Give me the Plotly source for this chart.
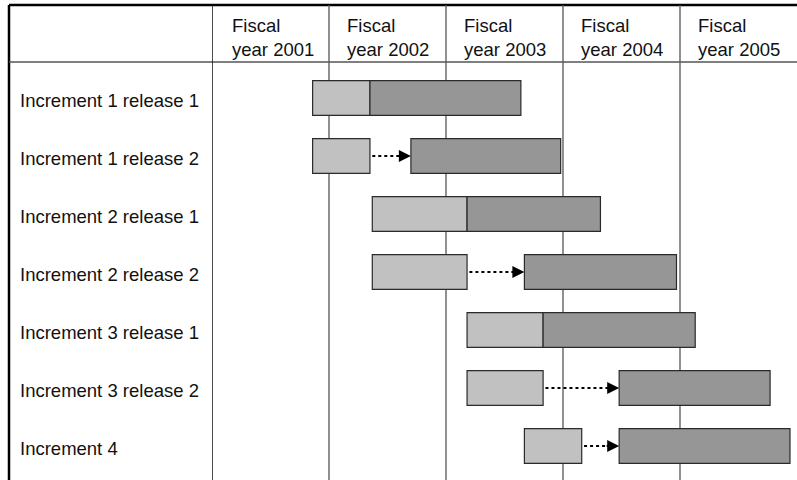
import plotly.graph_objects as go

# ---------------- data ----------------
rows = [
    "Increment 1 release 1",
    "Increment 1 release 2",
    "Increment 2 release 1",
    "Increment 2 release 2",
    "Increment 3 release 1",
    "Increment 3 release 2",
    "Increment 4",
]
fiscal_years = [2001, 2002, 2003, 2004, 2005]
year_labels = ["Fiscal<br>year 2001", "Fiscal<br>year 2002", "Fiscal<br>year 2003",
               "Fiscal<br>year 2004", "Fiscal<br>year 2005"]

# phase 1 (light) and phase 2 (dark), in fiscal-year units
light_start = [2001.86, 2001.86, 2002.37, 2002.37, 2003.18, 2003.18, 2003.67]
light_end   = [2002.35, 2002.35, 2003.18, 2003.18, 2003.83, 2003.83, 2004.16]
dark_start  = [2002.35, 2002.70, 2003.18, 2003.67, 2003.83, 2004.48, 2004.48]
dark_end    = [2003.64, 2003.98, 2004.32, 2004.97, 2005.13, 2005.77, 2005.94]

# ---------------- figure ----------------
W, H = 797, 480
FONT = "Liberation Sans, Arial, Helvetica, sans-serif"
LIGHT = "#c1c1c1"
DARK = "#969696"
EDGE = "#2a2a2a"

idx = list(range(len(rows)))
fig = go.Figure()
fig.add_trace(go.Bar(
    y=idx, x=[e - s for s, e in zip(light_start, light_end)], base=light_start,
    orientation="h", width=0.6, marker=dict(color=LIGHT, line=dict(color=EDGE, width=1.2)),
    hoverinfo="skip"))
fig.add_trace(go.Bar(
    y=idx, x=[e - s for s, e in zip(dark_start, dark_end)], base=dark_start,
    orientation="h", width=0.6, marker=dict(color=DARK, line=dict(color=EDGE, width=1.2)),
    hoverinfo="skip"))

shapes = []
annotations = []

# table frame
top = 1 - 5 / H
header_y = 1 - 62 / H
shapes.append(dict(type="line", xref="paper", yref="paper", x0=9 / W, x1=1, y0=top, y1=top,
                   line=dict(color="#000", width=2.5), layer="below"))
shapes.append(dict(type="line", xref="paper", yref="paper", x0=9 / W, x1=9 / W, y0=0, y1=top,
                   line=dict(color="#000", width=2.5), layer="below"))
shapes.append(dict(type="line", xref="paper", yref="paper", x0=9 / W, x1=1, y0=header_y, y1=header_y,
                   line=dict(color="#555", width=1.6), layer="below"))
# year dividers
for i, fy in enumerate(fiscal_years):
    shapes.append(dict(type="line", xref="x", yref="paper", x0=fy, x1=fy, y0=0, y1=top,
                       line=dict(color="#000" if i == 0 else "#555", width=1.4 if i == 0 else 1.3),
                       layer="below"))
    annotations.append(dict(x=fy, y=1 - 38 / H, xref="x", yref="paper", text=year_labels[i],
                            showarrow=False, xanchor="left", yanchor="middle", align="left",
                            xshift=16 if i else 18, font=dict(family=FONT, size=18.5, color="#111")))

# row labels
for i, r in enumerate(rows):
    annotations.append(dict(x=18 / W, y=i, xref="paper", yref="y", text=r, showarrow=False,
                            xanchor="left", yanchor="middle", yshift=-2,
                            font=dict(family=FONT, size=18.5, color="#111")))

# dotted arrows between phases
for i in idx:
    if dark_start[i] - light_end[i] > 0.05:
        shapes.append(dict(type="line", xref="x", yref="y", x0=light_end[i] + 0.02, x1=dark_start[i] - 0.04,
                           y0=i, y1=i, line=dict(color="#000", width=2.2, dash="dot"), layer="above"))
        annotations.append(dict(x=dark_start[i], y=i, xref="x", yref="y", ax=-14, ay=0, text="",
                                showarrow=True, arrowhead=2, arrowsize=1.2, arrowwidth=2,
                                arrowcolor="#000", standoff=0))

fig.update_layout(
    width=W, height=H, margin=dict(l=0, r=0, t=0, b=0),
    paper_bgcolor="white", plot_bgcolor="rgba(0,0,0,0)",
    showlegend=False, barmode="overlay",
    xaxis=dict(range=[2001, 2006], domain=[212 / W, 1], visible=False, fixedrange=True),
    yaxis=dict(range=[(H - 98) / 58, -98 / 58], visible=False, fixedrange=True),
    shapes=shapes, annotations=annotations,
)

fig.write_html("out.html", config={"displayModeBar": False},
               post_script="document.body.style.margin='0';document.body.style.overflow='hidden';")
